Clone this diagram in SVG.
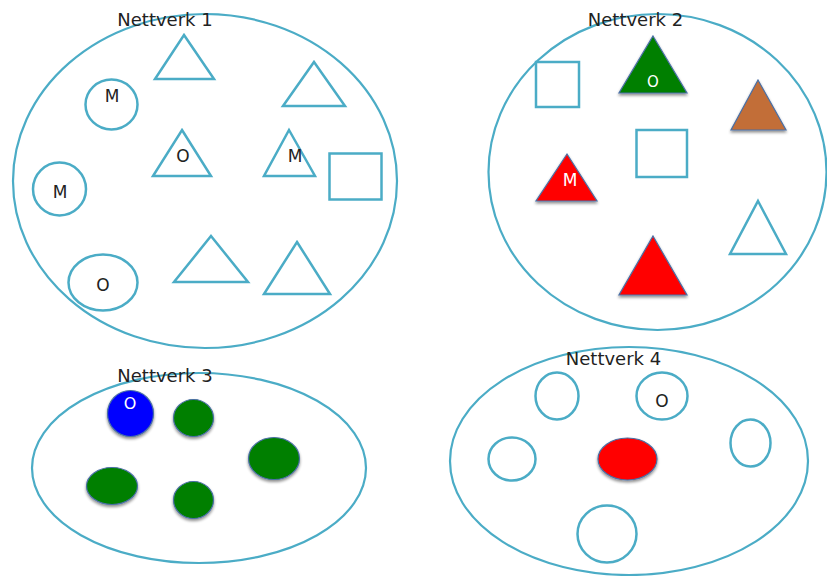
<svg xmlns="http://www.w3.org/2000/svg" width="827" height="576" viewBox="0 0 827 576">
<defs>
<style>
.net{fill:none;stroke:#4BACC6;stroke-width:2.2}
.o{fill:#fff;stroke:#4BACC6;stroke-width:2.5}
.f{stroke:#4A6FA5;stroke-width:1.2}
.title{font-family:"DejaVu Sans",sans-serif;font-size:18px;fill:#222;text-anchor:middle}
.lbl{font-family:"DejaVu Sans",sans-serif;font-size:17px;fill:#222;text-anchor:middle}
.wl{font-family:"DejaVu Sans",sans-serif;fill:#fff;text-anchor:middle}
</style>
<filter id="sh" x="-30%" y="-30%" width="160%" height="170%">
<feGaussianBlur in="SourceAlpha" stdDeviation="1.6"/>
<feOffset dx="0" dy="1.5" result="b"/>
<feComponentTransfer><feFuncA type="linear" slope="0.45"/></feComponentTransfer>
<feMerge><feMergeNode/><feMergeNode in="SourceGraphic"/></feMerge>
</filter>
</defs>
<rect width="827" height="576" fill="#fff"/>

<!-- Network 1 -->
<g id="nettverk1">
<ellipse class="net" cx="205" cy="181" rx="192" ry="167"/>
<text class="title" x="165" y="26">Nettverk 1</text>
</g>
<g id="n1-circle-m1"><ellipse class="o" cx="111.5" cy="104.5" rx="26" ry="25"/><text class="lbl" x="112" y="102">M</text></g>
<g id="n1-circle-m2"><ellipse class="o" cx="59.5" cy="189" rx="26.5" ry="26.5"/><text class="lbl" x="60" y="198">M</text></g>
<g id="n1-ellipse-o"><ellipse class="o" cx="103" cy="282.5" rx="34.5" ry="28"/><text class="lbl" x="103" y="291">O</text></g>
<g id="n1-tri1"><polygon class="o" points="184,35 214,79 155,79"/></g>
<g id="n1-tri2"><polygon class="o" points="314,62 345,106 283,106"/></g>
<g id="n1-tri-o"><polygon class="o" points="182,130 211,176 153,176"/><text class="lbl" x="183" y="162">O</text></g>
<g id="n1-tri-m"><polygon class="o" points="289,130 315,176 264,176"/><text class="lbl" x="295" y="162">M</text></g>
<g id="n1-square"><rect class="o" x="329.5" y="153.5" width="52" height="46"/></g>
<g id="n1-tri3"><polygon class="o" points="211,236 248,282 174,282"/></g>
<g id="n1-tri4"><polygon class="o" points="297,242 330,294 264,294"/></g>

<!-- Network 2 -->
<g id="nettverk2">
<ellipse class="net" cx="657.5" cy="172" rx="169" ry="158"/>
<text class="title" x="635.5" y="26">Nettverk 2</text>
</g>
<g id="n2-square1"><rect class="o" x="536" y="62" width="43" height="45"/></g>
<g id="n2-tri-green"><polygon class="f" fill="#007F00" points="653,36 687,93 619,93" filter="url(#sh)"/><text class="wl" x="653" y="87" font-size="15">O</text></g>
<g id="n2-tri-brown"><polygon class="f" fill="#C26E37" points="758,80 786,130 731,130" filter="url(#sh)"/></g>
<g id="n2-square2"><rect class="o" x="636.5" y="130" width="50.5" height="47"/></g>
<g id="n2-tri-red-m"><polygon class="f" fill="#FF0000" points="567,154 597,201 536,201" filter="url(#sh)"/><text class="wl" x="570" y="186" font-size="17">M</text></g>
<g id="n2-tri-red"><polygon class="f" fill="#FF0000" points="653,236 687,295 619,295" filter="url(#sh)"/></g>
<g id="n2-tri-outline"><polygon class="o" points="758,201 786,254 730,254"/></g>

<!-- Network 3 -->
<g id="nettverk3">
<ellipse class="net" cx="199" cy="468" rx="167" ry="95"/>
<text class="title" x="165" y="382">Nettverk 3</text>
</g>
<g id="n3-blue"><circle class="f" fill="#0000FF" cx="130.5" cy="413.5" r="23" filter="url(#sh)"/><text class="wl" x="130" y="409" font-size="16">O</text></g>
<g id="n3-green1"><ellipse class="f" fill="#007F00" cx="193.5" cy="418" rx="20" ry="18.5" filter="url(#sh)"/></g>
<g id="n3-green2"><ellipse class="f" fill="#007F00" cx="274" cy="458.5" rx="25.5" ry="21" filter="url(#sh)"/></g>
<g id="n3-green3"><ellipse class="f" fill="#007F00" cx="112" cy="486" rx="25.5" ry="18.5" filter="url(#sh)"/></g>
<g id="n3-green4"><ellipse class="f" fill="#007F00" cx="193.5" cy="500" rx="20" ry="18.5" filter="url(#sh)"/></g>

<!-- Network 4 -->
<g id="nettverk4">
<ellipse class="net" cx="629" cy="461" rx="179" ry="114"/>
<text class="title" x="613.5" y="365">Nettverk 4</text>
</g>
<g id="n4-c1"><ellipse class="o" cx="557" cy="396" rx="21.5" ry="23.5"/></g>
<g id="n4-c-o"><ellipse class="o" cx="662" cy="396" rx="25.5" ry="23.5"/><text class="lbl" x="662" y="407">O</text></g>
<g id="n4-c-left"><ellipse class="o" cx="512" cy="459" rx="23.5" ry="21.5"/></g>
<g id="n4-red"><ellipse class="f" fill="#FF0000" cx="627.5" cy="459" rx="29.5" ry="21" filter="url(#sh)"/></g>
<g id="n4-c-right"><ellipse class="o" cx="750.5" cy="443" rx="20" ry="23.5"/></g>
<g id="n4-c-bottom"><ellipse class="o" cx="607" cy="534" rx="29.5" ry="28.5"/></g>
</svg>
